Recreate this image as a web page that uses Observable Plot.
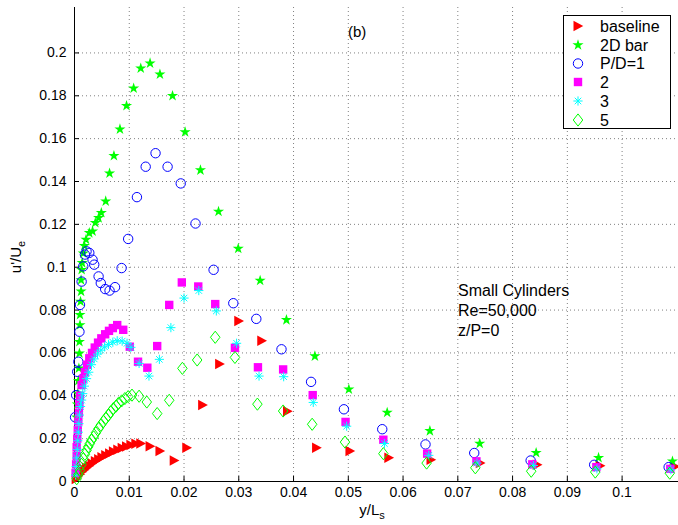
<!DOCTYPE html>
<html><head><meta charset="utf-8">
<script src="https://cdn.jsdelivr.net/npm/d3@7"></script>
<script src="https://cdn.jsdelivr.net/npm/@observablehq/plot@0.6"></script>
<style>body{margin:0;background:#fff} #chart{position:relative;width:678px;height:525px}</style>
</head><body><div id="chart"></div>
<script>
// ---- tick values / labels ----
const xTicks = [0, 0.01, 0.02, 0.03, 0.04, 0.05, 0.06, 0.07, 0.08, 0.09, 0.1];
const xTickLabels = ["0", "0.01", "0.02", "0.03", "0.04", "0.05", "0.06", "0.07", "0.08", "0.09", "0.1"];
const yTicks = [0, 0.02, 0.04, 0.06, 0.08, 0.1, 0.12, 0.14, 0.16, 0.18, 0.2];
const yTickLabels = ["0", "0.02", "0.04", "0.06", "0.08", "0.1", "0.12", "0.14", "0.16", "0.18", "0.2"];

const seriesNames = ["baseline", "2D bar", "P/D=1", "2", "3", "5"];

// ---- data ----
const baselineX = [0.0003,0.0006,0.0010,0.0014,0.0018,0.0022,0.0027,0.0032,0.0038,0.0044,0.0050,0.0057,0.0064,0.0071,0.0079,0.0087,0.0095,0.0103,0.0112,0.0121,0.0138,0.0156,0.0182,0.0205,0.0234,0.0265,0.0300,0.0342,0.0389,0.0442,0.0503,0.0574,0.0651,0.0741,0.0845,0.0960,0.1097];
const baselineY = [0.0012,0.0022,0.0034,0.0045,0.0055,0.0064,0.0074,0.0084,0.0094,0.0104,0.0113,0.0122,0.0131,0.0140,0.0148,0.0156,0.0163,0.0170,0.0176,0.0177,0.0164,0.0142,0.0098,0.0158,0.0357,0.0548,0.0749,0.0657,0.0328,0.0158,0.0142,0.0111,0.0102,0.0086,0.0078,0.0073,0.0070];

const barX = [0.0004,0.0005,0.0006,0.0007,0.0008,0.0009,0.0009,0.0010,0.0010,0.0011,0.0012,0.0012,0.0013,0.0014,0.0016,0.0018,0.0021,0.0027,0.0033,0.0038,0.0044,0.0049,0.0057,0.0064,0.0072,0.0083,0.0095,0.0108,0.0121,0.0138,0.0156,0.0179,0.0202,0.0230,0.0263,0.0299,0.0339,0.0387,0.0439,0.0501,0.0571,0.0649,0.0740,0.0843,0.0957,0.1092];
const barY = [0.030,0.036,0.041,0.047,0.0528,0.0598,0.0652,0.073,0.0778,0.084,0.0887,0.094,0.0988,0.102,0.1065,0.110,0.1129,0.116,0.1168,0.1207,0.123,0.1254,0.1308,0.1438,0.152,0.1644,0.1753,0.1835,0.1928,0.1952,0.190,0.180,0.1631,0.1453,0.126,0.1087,0.0938,0.0754,0.0585,0.043,0.0322,0.0236,0.0177,0.0134,0.0111,0.0094];

const pd1X = [0.0001,0.0003,0.0005,0.0007,0.0009,0.0010,0.0013,0.0016,0.0019,0.0022,0.0027,0.0033,0.0036,0.0044,0.0048,0.0056,0.0064,0.0074,0.0086,0.0098,0.0114,0.0130,0.0148,0.0170,0.0194,0.0221,0.0254,0.0290,0.0332,0.0378,0.0432,0.0492,0.0562,0.0641,0.0730,0.0833,0.0949,0.1085];
const pd1Y = [0.030,0.0403,0.0512,0.0559,0.0699,0.0824,0.0933,0.1004,0.1059,0.1074,0.1067,0.1035,0.1012,0.0957,0.0926,0.0898,0.0891,0.0907,0.0996,0.1132,0.1327,0.1469,0.1532,0.1469,0.1391,0.1204,0.0988,0.0832,0.0759,0.0617,0.0465,0.0337,0.0244,0.0173,0.0133,0.0098,0.0078,0.0067];

const pd2X = [0.0002,0.0003,0.0004,0.0004,0.0005,0.0006,0.0007,0.0008,0.0009,0.0010,0.0013,0.0016,0.0019,0.0023,0.0027,0.0032,0.0037,0.0043,0.0049,0.0056,0.0063,0.0070,0.0078,0.0089,0.0101,0.0116,0.0133,0.0151,0.0173,0.0196,0.0226,0.0257,0.0293,0.0335,0.0381,0.0435,0.0495,0.0564,0.0644,0.0734,0.0836,0.0953,0.1088];
const pd2Y = [0.004,0.008,0.012,0.016,0.020,0.024,0.028,0.032,0.036,0.040,0.045,0.048,0.051,0.0545,0.0575,0.060,0.0625,0.0648,0.0668,0.0687,0.0703,0.0716,0.0730,0.0708,0.0629,0.0559,0.0531,0.0632,0.0824,0.0929,0.0910,0.0828,0.0624,0.0533,0.0523,0.0403,0.0278,0.0195,0.0130,0.0094,0.0080,0.0067,0.0059];

const pd3X = [0.0002,0.0003,0.0004,0.0005,0.0006,0.0007,0.0008,0.0009,0.0011,0.0013,0.0015,0.0018,0.0022,0.0026,0.0031,0.0036,0.0042,0.0048,0.0055,0.0062,0.0070,0.0078,0.0087,0.0096,0.0103,0.0118,0.0136,0.0155,0.0176,0.0200,0.0227,0.0259,0.0296,0.0337,0.0382,0.0436,0.0497,0.0566,0.0647,0.0735,0.0838,0.0954,0.1089];
const pd3Y = [0.003,0.007,0.011,0.015,0.019,0.023,0.027,0.031,0.035,0.038,0.041,0.0445,0.048,0.051,0.0545,0.0572,0.0595,0.0613,0.0628,0.064,0.065,0.0657,0.0655,0.0645,0.0626,0.0551,0.0492,0.0570,0.0718,0.0856,0.0891,0.0796,0.0645,0.0492,0.0489,0.0369,0.0258,0.0177,0.0122,0.0086,0.0075,0.0059,0.0055];

const pd5X = [0.0004,0.0007,0.0010,0.0013,0.0016,0.0019,0.0022,0.0025,0.0028,0.0031,0.0035,0.0039,0.0044,0.0048,0.0053,0.0057,0.0062,0.0066,0.0071,0.0076,0.0080,0.0086,0.0092,0.0098,0.0105,0.0118,0.0132,0.0151,0.0173,0.0197,0.0224,0.0257,0.0293,0.0334,0.0381,0.0434,0.0494,0.0564,0.0643,0.0732,0.0834,0.0951,0.1087];
const pd5Y = [0.0013,0.0032,0.0052,0.0080,0.0106,0.0127,0.0145,0.0162,0.0177,0.0192,0.0208,0.0227,0.0247,0.0263,0.0280,0.0295,0.0309,0.0325,0.0340,0.0352,0.0364,0.0376,0.0387,0.0396,0.0403,0.0398,0.0371,0.0317,0.0379,0.0528,0.0567,0.0673,0.0579,0.0361,0.0329,0.0267,0.0184,0.0130,0.0086,0.0064,0.0048,0.0044,0.0039];

// ---- custom MATLAB-like marker symbols ----
const rOf = size => Math.sqrt(size / Math.PI);
const triRight = {draw(c, s){const r=rOf(s); c.moveTo(-0.9*r,-1.05*r); c.lineTo(1.05*r,0); c.lineTo(-0.9*r,1.05*r); c.closePath();}};
const star5 = {draw(c, s){const r=rOf(s); const R=1.17*r, ri=R*0.382; for(let k=0;k<10;k++){const a=-Math.PI/2+k*Math.PI/5; const rr=k%2?ri:R; const px=rr*Math.cos(a), py=rr*Math.sin(a); if(k) c.lineTo(px,py); else c.moveTo(px,py);} c.closePath();}};
const circ = {draw(c, s){const r=rOf(s)*0.94; c.moveTo(r,0); c.arc(0,0,r,0,2*Math.PI);}};
const sq = {draw(c, s){const r=rOf(s)*0.84; c.rect(-r,-r,2*r,2*r);}};
const aster = {draw(c, s){const r=rOf(s)*0.92; for(let k=0;k<4;k++){const a=k*Math.PI/4; c.moveTo(-r*Math.cos(a),-r*Math.sin(a)); c.lineTo(r*Math.cos(a),r*Math.sin(a));}}};
const diam = {draw(c, s){const r=rOf(s); c.moveTo(0,-1.22*r); c.lineTo(0.95*r,0); c.lineTo(0,1.22*r); c.lineTo(-0.95*r,0); c.closePath();}};

const styles = [
  {sym: triRight, fill: "#ff0000", stroke: "none"},
  {sym: star5, fill: "#00ff00", stroke: "none"},
  {sym: circ, fill: "none", stroke: "#0000ff"},
  {sym: sq, fill: "#ff00ff", stroke: "none"},
  {sym: aster, fill: "none", stroke: "#00ffff"},
  {sym: diam, fill: "none", stroke: "#00ff00"}
];
const seriesXY = [[baselineX, baselineY],[barX, barY],[pd1X, pd1Y],[pd2X, pd2Y],[pd3X, pd3Y],[pd5X, pd5Y]];

const FONT = "'Liberation Sans', Arial, Helvetica, sans-serif";

const dotMarks = seriesXY.map(([X, Y], i) => Plot.dot(X, {
  x: X, y: Y, r: 5, symbol: styles[i].sym, fill: styles[i].fill, stroke: styles[i].stroke, strokeWidth: 1
}));

const chart = Plot.plot({
  width: 678, height: 525,
  marginLeft: 74, marginRight: 0, marginTop: 7, marginBottom: 44,
  style: {fontFamily: FONT, fontSize: "14px", color: "#000", background: "#fff"},
  x: {domain: [0, 0.1103]},
  y: {domain: [0, 0.2212]},
  marks: [
    Plot.gridX(xTicks, {stroke: "#808080", strokeOpacity: 1, strokeDasharray: "1,3"}),
    Plot.gridY(yTicks, {stroke: "#808080", strokeOpacity: 1, strokeDasharray: "1,3"}),
    Plot.ruleY([0], {stroke: "#000"}),
    Plot.ruleX([0], {stroke: "#000"}),
    Plot.axisX(xTicks, {tickFormat: d => xTickLabels[xTicks.indexOf(d)], tickSize: -5, tickPadding: 11, label: null, fontSize: 14}),
    Plot.axisY(yTicks, {tickFormat: d => yTickLabels[yTicks.indexOf(d)], tickSize: -5, tickPadding: 13, label: null, fontSize: 14}),
    ...dotMarks
  ]
});
document.getElementById("chart").appendChild(chart);

// ---- axis labels, annotations, legend ----
const svg = d3.select(chart);
const yl = svg.append("text").attr("transform", "translate(21,257) rotate(-90)")
  .attr("text-anchor", "middle").style("font-family", FONT).style("font-size", "15px").attr("fill", "#000");
yl.append("tspan").text("u'/U");
yl.append("tspan").attr("dy", 4).style("font-size", "11px").text("e");

const xl = svg.append("text").attr("x", 372).attr("y", 515)
  .attr("text-anchor", "middle").style("font-family", FONT).style("font-size", "15px").attr("fill", "#000");
xl.append("tspan").text("y/L");
xl.append("tspan").attr("dy", 4).style("font-size", "11px").text("s");

svg.append("text").attr("x", 348).attr("y", 37).attr("text-anchor", "start")
  .style("font-family", FONT).style("font-size", "15px").text("(b)");
const annot = ["Small Cylinders", "Re=50,000", "z/P=0"];
annot.forEach((t, i) => svg.append("text").attr("x", 458).attr("y", 296 + i*20).attr("text-anchor", "start")
  .style("font-family", FONT).style("font-size", "16px").text(t));

const lg = svg.append("g");
lg.append("rect").attr("x", 563.5).attr("y", 15.5).attr("width", 107).attr("height", 113)
  .attr("fill", "#fff").attr("stroke", "#000").attr("stroke-width", 1);
const rowY = [26, 45, 63.5, 82, 101, 120];
seriesNames.forEach((name, i) => {
  const p = d3.path(); styles[i].sym.draw(p, 25*Math.PI);
  lg.append("path").attr("d", p.toString()).attr("transform", `translate(578,${rowY[i]})`)
    .attr("fill", styles[i].fill).attr("stroke", styles[i].stroke).attr("stroke-width", 1);
  lg.append("text").attr("x", 600).attr("y", rowY[i]).attr("dy", "0.35em").attr("text-anchor", "start")
    .style("font-family", FONT).style("font-size", "16px").text(name);
});
</script></body></html>
